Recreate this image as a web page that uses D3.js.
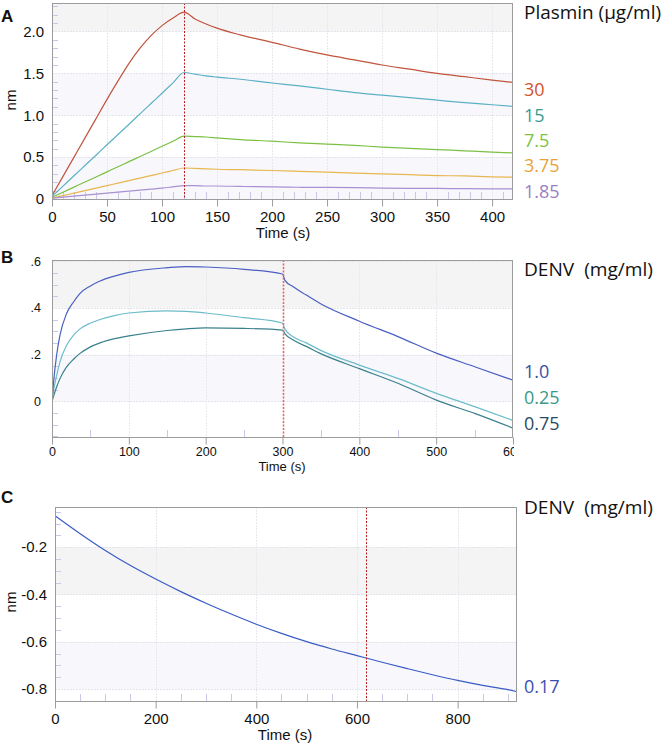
<!DOCTYPE html>
<html>
<head>
<meta charset="utf-8">
<script src="https://cdn.jsdelivr.net/npm/d3@7"></script>
<style>
  html, body { margin: 0; padding: 0; background: #fff; }
  svg { display: block; }
  .tick text { font-family: "Liberation Sans", Arial, sans-serif; fill: #111; }
  .legend { font-family: "Open Sans", "Noto Sans", sans-serif; white-space: pre; }
</style>
</head>
<body>
<svg id="chart" width="664" height="744"></svg>
<script>
// ---------------- DATA ----------------
// Panel A: Plasmin (µg/ml)
const plasminConc = ["30", "15", "7.5", "3.75", "1.85"];
const plasminTime = [0, 10, 20, 30, 40, 50, 60, 70, 80, 90, 100, 110, 120, 130, 140, 150, 171, 200, 225, 250, 275, 300, 325, 350, 375, 400, 420];
const plasmin30   = [0.04, 0.27, 0.50, 0.73, 0.96, 1.19, 1.41, 1.62, 1.80, 1.95, 2.07, 2.16, 2.23, 2.15, 2.09, 2.04, 1.96, 1.87, 1.79, 1.72, 1.66, 1.60, 1.55, 1.50, 1.46, 1.42, 1.39];
const plasmin15   = [0.03, 0.153, 0.277, 0.40, 0.523, 0.647, 0.77, 0.893, 1.017, 1.14, 1.263, 1.387, 1.51, 1.49, 1.47, 1.455, 1.43, 1.385, 1.35, 1.31, 1.27, 1.24, 1.21, 1.18, 1.15, 1.125, 1.105];
const plasmin7_5  = [0.02, 0.081, 0.142, 0.203, 0.263, 0.324, 0.385, 0.446, 0.507, 0.568, 0.629, 0.689, 0.75, 0.745, 0.74, 0.73, 0.71, 0.69, 0.67, 0.655, 0.64, 0.62, 0.605, 0.59, 0.575, 0.56, 0.55];
const plasmin3_75 = [0.01, 0.04, 0.07, 0.10, 0.13, 0.16, 0.19, 0.22, 0.25, 0.28, 0.31, 0.34, 0.37, 0.365, 0.36, 0.355, 0.35, 0.34, 0.33, 0.32, 0.31, 0.30, 0.29, 0.28, 0.275, 0.265, 0.26];
const plasmin1_85 = [0.01, 0.022, 0.034, 0.046, 0.058, 0.07, 0.082, 0.094, 0.106, 0.118, 0.13, 0.145, 0.16, 0.16, 0.155, 0.155, 0.15, 0.145, 0.14, 0.138, 0.135, 0.13, 0.128, 0.126, 0.124, 0.122, 0.12];
const plasminXTicks = [0, 50, 100, 150, 200, 250, 300, 350, 400];
const plasminYTicks = [0, 0.5, 1.0, 1.5, 2.0];
const plasminYLabels = ["0", "0.5", "1.0", "1.5", "2.0"];

// Panel B: DENV (mg/ml)
const denvBConc = ["1.0", "0.25", "0.75"];
const denvBTime = [0, 1.7, 6, 10.4, 19, 28, 36.5, 49.5, 62.5, 80, 100, 150, 175, 200, 250, 300, 303, 314, 331, 349, 400, 451, 501, 551, 600];
const denv1_0   = [0, 0.07, 0.197, 0.283, 0.376, 0.425, 0.462, 0.493, 0.515, 0.535, 0.552, 0.572, 0.577, 0.575, 0.565, 0.545, 0.519, 0.49, 0.455, 0.419, 0.343, 0.276, 0.205, 0.147, 0.09];
const denv0_25  = [0, 0.04, 0.11, 0.169, 0.24, 0.283, 0.31, 0.334, 0.35, 0.366, 0.378, 0.387, 0.385, 0.378, 0.358, 0.335, 0.31, 0.276, 0.25, 0.219, 0.155, 0.097, 0.033, -0.024, -0.082];
const denv0_75  = [0, 0.018, 0.061, 0.097, 0.147, 0.18, 0.205, 0.232, 0.25, 0.267, 0.28, 0.303, 0.31, 0.314, 0.312, 0.305, 0.29, 0.262, 0.235, 0.205, 0.14, 0.076, 0.004, -0.053, -0.115];
const denvBXTicks = [0, 100, 200, 300, 400, 500, 600];
const denvBYTicks = [0, 0.2, 0.4, 0.6];
const denvBYLabels = ["0", ".2", ".4", ".6"];

// Panel C: DENV (mg/ml)
const denvCConc = ["0.17"];
const denvCTime = [0, 50, 100, 150, 200, 250, 300, 350, 400, 450, 500, 550, 600, 650, 700, 750, 800, 850, 900, 918];
const denv0_17  = [-0.067, -0.143, -0.214, -0.278, -0.335, -0.388, -0.437, -0.483, -0.526, -0.565, -0.600, -0.631, -0.659, -0.687, -0.714, -0.740, -0.764, -0.785, -0.803, -0.812];
const denvCXTicks = [0, 200, 400, 600, 800];
const denvCYTicks = [-0.2, -0.4, -0.6, -0.8];
const denvCYLabels = ["-0.2", "-0.4", "-0.6", "-0.8"];

// ---------------- DRAWING ----------------
const svg = d3.select("#chart");

function panel(opt) {
  const x = d3.scaleLinear().domain(opt.xDomain).range([opt.left, opt.right]);
  const y = d3.scaleLinear().domain(opt.yDomain).range([opt.bottom, opt.top]);
  const g = svg.append("g");
  const clipId = "clip" + opt.id;
  svg.append("clipPath").attr("id", clipId).append("rect")
    .attr("x", opt.left).attr("y", opt.top)
    .attr("width", opt.right - opt.left).attr("height", opt.bottom - opt.top);

  // bands
  opt.bands.forEach(b => {
    const y0 = Math.max(b[0], opt.yDomain[0]), y1 = Math.min(b[1], opt.yDomain[1]);
    g.append("rect")
      .attr("x", opt.left).attr("width", opt.right - opt.left)
      .attr("y", y(y1)).attr("height", y(y0) - y(y1))
      .attr("fill", b[2]);
  });

  // grid
  g.append("g").selectAll("line").data(opt.yTicks).join("line")
    .attr("x1", opt.left).attr("x2", opt.right)
    .attr("y1", d => Math.round(y(d)) + 0.5).attr("y2", d => Math.round(y(d)) + 0.5)
    .attr("stroke", "#e4e4ec").attr("stroke-width", 1).attr("stroke-dasharray", "2,1");
  g.append("g").selectAll("line").data(opt.xTicks.filter(d => d > opt.xDomain[0] && d < opt.xDomain[1])).join("line")
    .attr("y1", opt.top).attr("y2", opt.bottom)
    .attr("x1", d => Math.round(x(d)) + 0.5).attr("x2", d => Math.round(x(d)) + 0.5)
    .attr("stroke", "#e8e8ee").attr("stroke-width", 1).attr("stroke-dasharray", "2,1");

  // minor ticks (inside)
  const minorY = d3.range(Math.ceil(opt.yDomain[0] / opt.yMinor), Math.floor(opt.yDomain[1] / opt.yMinor) + 1)
    .map(k => k * opt.yMinor)
    .filter(v => !opt.yTicks.some(t => Math.abs(t - v) < 1e-6));
  g.append("g").selectAll("line").data(minorY).join("line")
    .attr("x1", opt.left).attr("x2", opt.left + 6)
    .attr("y1", d => Math.round(y(d)) + 0.5).attr("y2", d => Math.round(y(d)) + 0.5)
    .attr("stroke", "#c9c9e6").attr("stroke-width", 1);
  const minorX = d3.range(1, Math.floor(opt.xDomain[1] / opt.xMinor) + 1)
    .map(k => k * opt.xMinor)
    .filter(v => !opt.xTicks.some(t => Math.abs(t - v) < 1e-6) && v < opt.xDomain[1]);
  g.append("g").selectAll("line").data(minorX).join("line")
    .attr("y1", opt.bottom).attr("y2", opt.bottom - 7)
    .attr("x1", d => Math.round(x(d)) + 0.5).attr("x2", d => Math.round(x(d)) + 0.5)
    .attr("stroke", "#c9c9e6").attr("stroke-width", 1);

  // lines
  const line = d3.line().x(d => x(d[0])).y(d => y(d[1])).curve(d3.curveMonotoneX);
  const lg = g.append("g").attr("clip-path", `url(#${clipId})`);
  opt.series.forEach(s => {
    lg.append("path")
      .datum(opt.time.map((t, i) => [t, s.values[i]]))
      .attr("d", line).attr("fill", "none")
      .attr("stroke", s.color).attr("stroke-width", 1.2);
  });

  // marker line
  g.append("line")
    .attr("x1", Math.round(x(opt.marker)) + 0.5).attr("x2", Math.round(x(opt.marker)) + 0.5)
    .attr("y1", opt.top).attr("y2", opt.bottom)
    .attr("stroke", opt.markerColor).attr("stroke-width", opt.markerWidth)
    .attr("stroke-dasharray", "2,1.5");

  // frame
  g.append("rect")
    .attr("x", opt.left + 0.5).attr("y", opt.top + 0.5)
    .attr("width", opt.right - opt.left - 1).attr("height", opt.bottom - opt.top)
    .attr("fill", "none").attr("stroke", "#9c9c9c").attr("stroke-width", 1);

  // x axis
  const xa = svg.append("g")
    .attr("transform", `translate(0,${opt.bottom + 0.5})`)
    .call(d3.axisBottom(x).tickValues(opt.xTicks).tickSize(7).tickPadding(opt.xPad).tickFormat(d3.format("d")));
  if (opt.axisClip) {
    svg.append("clipPath").attr("id", clipId + "ax").append("rect")
      .attr("x", 0).attr("y", -20).attr("width", opt.axisClip).attr("height", 60);
    xa.attr("clip-path", `url(#${clipId}ax)`);
  }
  xa.select(".domain").remove();
  xa.selectAll(".tick line").attr("stroke", "#9c9c9c");
  xa.selectAll(".tick text").attr("font-size", opt.xFont);

  // y axis
  const ya = svg.append("g")
    .attr("transform", `translate(${opt.left},0)`)
    .call(d3.axisLeft(y).tickValues(opt.yTicks).tickSize(0).tickPadding(opt.yPad)
      .tickFormat((d, i) => opt.yLabels[i]));
  ya.select(".domain").remove();
  ya.selectAll(".tick text").attr("font-size", opt.yFont);

  // axis titles
  svg.append("text").text("Time (s)")
    .attr("x", opt.titleX).attr("y", opt.titleY)
    .attr("text-anchor", "middle")
    .attr("font-family", "Liberation Sans, Arial, sans-serif")
    .attr("font-size", opt.titleFont).attr("fill", "#111");
  if (opt.nmY) {
    svg.append("text").text("nm")
      .attr("transform", `translate(16,${opt.nmY}) rotate(-90)`)
      .attr("text-anchor", "middle")
      .attr("font-family", "Liberation Sans, Arial, sans-serif")
      .attr("font-size", 15).attr("fill", "#111");
  }

  // panel letter
  svg.append("text").text(opt.letter)
    .attr("x", 1).attr("y", opt.letterY)
    .attr("font-family", "Liberation Sans, Arial, sans-serif")
    .attr("font-weight", "bold").attr("font-size", 17).attr("fill", "#111");

  // legend
  svg.append("text").attr("class", "legend").text(opt.legendTitle)
    .attr("x", 524).attr("y", opt.legendTitleY)
    .attr("font-size", 19).attr("fill", "#111")
    .attr("textLength", opt.legendTitleLen).attr("lengthAdjust", "spacingAndGlyphs");
  opt.legend.forEach(l => {
    svg.append("text").attr("class", "legend").text(l.label)
      .attr("x", 524).attr("y", l.y)
      .attr("font-size", 18).attr("fill", l.color);
  });
}

panel({
  id: "A", letter: "A", letterY: 22,
  left: 52, right: 513, top: 3, bottom: 199,
  xDomain: [0, 419], yDomain: [0, 2.34],
  xTicks: plasminXTicks, yTicks: plasminYTicks, yLabels: plasminYLabels,
  xMinor: 10, yMinor: 0.1,
  bands: [[2.0, 3, "#f4f4f5"], [1.0, 1.5, "#f8f8fc"], [0, 0.5, "#f8f8fc"]],
  time: plasminTime,
  series: [
    { values: plasmin30, color: "#c0543c" },
    { values: plasmin15, color: "#5cb0c6" },
    { values: plasmin7_5, color: "#7cc043" },
    { values: plasmin3_75, color: "#e8b650" },
    { values: plasmin1_85, color: "#a890d2" }
  ],
  marker: 120, markerColor: "#b82020", markerWidth: 1,
  xFont: 15, yFont: 15, xPad: 5, yPad: 8,
  titleX: 283, titleY: 238, titleFont: 15, nmY: 100,
  legendTitle: "Plasmin (µg/ml)", legendTitleY: 19, legendTitleLen: 137,
  legend: [
    { label: plasminConc[0], y: 96, color: "#d4552b" },
    { label: plasminConc[1], y: 122, color: "#3a9c8c" },
    { label: plasminConc[2], y: 147, color: "#7ec242" },
    { label: plasminConc[3], y: 172, color: "#e9a23b" },
    { label: plasminConc[4], y: 198, color: "#9b80c4" }
  ]
});

panel({
  id: "B", letter: "B", letterY: 263,
  left: 52, right: 513, top: 260, bottom: 437,
  xDomain: [0, 600], yDomain: [-0.153, 0.605],
  xTicks: denvBXTicks, yTicks: denvBYTicks, yLabels: denvBYLabels,
  xMinor: 50, yMinor: 0.05,
  bands: [[0.4, 1, "#f4f4f5"], [0, 0.2, "#f8f8fc"]],
  time: denvBTime,
  series: [
    { values: denv0_75, color: "#3a808c" },
    { values: denv0_25, color: "#6cbcca" },
    { values: denv1_0, color: "#4a5fc2" }
  ],
  marker: 300, markerColor: "#e06a6a", markerWidth: 1.6,
  xFont: 12.5, yFont: 12.5, xPad: 3, yPad: 11, axisClip: 514,
  titleX: 282, titleY: 471, titleFont: 13, nmY: null,
  legendTitle: "DENV  (mg/ml)", legendTitleY: 276, legendTitleLen: 129,
  legend: [
    { label: denvBConc[0], y: 378, color: "#3a4ea6" },
    { label: denvBConc[1], y: 404, color: "#3a9a88" },
    { label: denvBConc[2], y: 430, color: "#2b4a66" }
  ]
});

panel({
  id: "C", letter: "C", letterY: 503,
  left: 55, right: 517, top: 507, bottom: 701,
  xDomain: [0, 918], yDomain: [-0.851, -0.030],
  xTicks: denvCXTicks, yTicks: denvCYTicks, yLabels: denvCYLabels,
  xMinor: 50, yMinor: 0.05,
  bands: [[-0.4, -0.2, "#f4f4f5"], [-0.8, -0.6, "#f8f8fc"]],
  time: denvCTime,
  series: [
    { values: denv0_17, color: "#3a5cc4" }
  ],
  marker: 618, markerColor: "#b82020", markerWidth: 1,
  xFont: 15, yFont: 15, xPad: 5, yPad: 8,
  titleX: 285, titleY: 740, titleFont: 15, nmY: 602,
  legendTitle: "DENV  (mg/ml)", legendTitleY: 514, legendTitleLen: 129,
  legend: [
    { label: denvCConc[0], y: 693, color: "#3a50b0" }
  ]
});
</script>
</body>
</html>
